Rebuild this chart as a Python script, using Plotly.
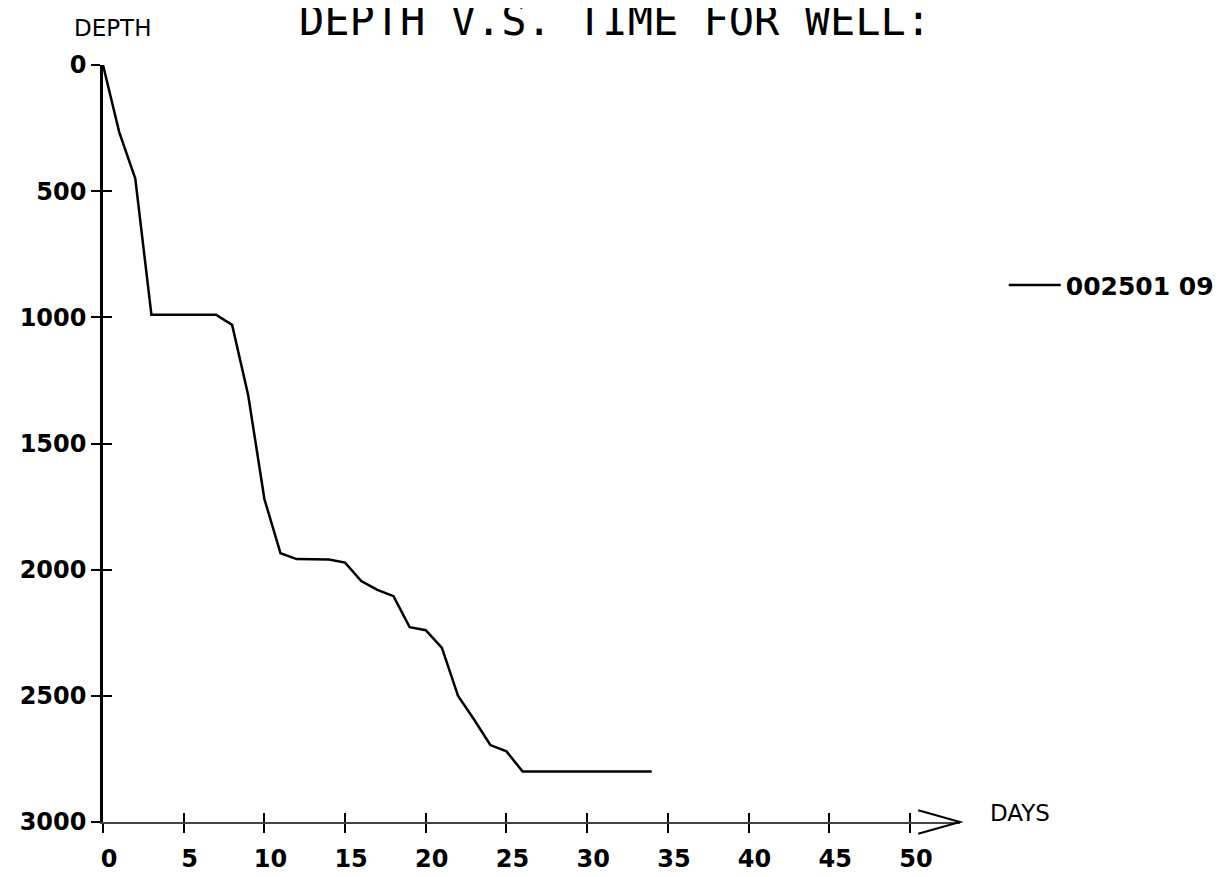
import plotly.graph_objects as go

# Data
days = [0, 1, 2, 3, 4, 5, 6, 7, 8, 9, 10, 11, 12, 13, 14, 15, 16, 17, 18,
        19, 20, 21, 22, 23, 24, 25, 26, 27, 28, 29, 30, 31, 32, 33, 34]
depth = [0, 265, 450, 990, 990, 990, 990, 990, 1030, 1310, 1720, 1935, 1958,
         1960, 1960, 1972, 2045, 2080, 2105, 2228, 2240, 2310, 2500, 2595,
         2695, 2720, 2800, 2800, 2800, 2800, 2800, 2800, 2800, 2800, 2800]
series_name = "002501 09"
x_ticks = [0, 5, 10, 15, 20, 25, 30, 35, 40, 45, 50]
y_ticks = [0, 500, 1000, 1500, 2000, 2500, 3000]

W, H = 1223, 877
L, R, T, B = 90, 271, 57, 43
PW, PH = W - L - R, H - T - B
XMAX = 53.1

tick_font = dict(family="DejaVu Sans", size=24, color="black", weight="bold")

fig = go.Figure()
fig.add_trace(go.Scatter(
    x=days, y=depth, mode="lines", name=series_name,
    line=dict(color="black", width=2.5),
))
# invisible companion trace on overlay axes (for crossing tick marks)
fig.add_trace(go.Scatter(
    x=days, y=depth, mode="lines", xaxis="x2", yaxis="y2",
    line=dict(color="rgba(0,0,0,0)", width=0), showlegend=False,
    hoverinfo="skip",
))

axis_common = dict(showgrid=False, zeroline=False)
fig.update_layout(
    width=W, height=H,
    margin=dict(l=L, r=R, t=T, b=B, pad=0),
    paper_bgcolor="white", plot_bgcolor="white",
    showlegend=True,
    xaxis=dict(range=[0, XMAX], tickvals=x_ticks, ticktext=[str(v) for v in x_ticks],
               ticks="outside", ticklen=9, tickwidth=2, tickcolor="black",
               showline=True, linecolor="#444", linewidth=2,
               ticklabelstandoff=5, ticklabelshift=6,
               tickfont=tick_font, anchor="y", **axis_common),
    yaxis=dict(range=[3000, 0], tickvals=y_ticks, ticktext=[str(v) for v in y_ticks],
               ticks="outside", ticklen=9, tickwidth=2, tickcolor="black",
               showline=True, linecolor="black", linewidth=2.5,
               tickfont=tick_font, anchor="x", **axis_common),
    xaxis2=dict(range=[0, XMAX], tickvals=x_ticks, overlaying="x", side="bottom",
                anchor="y2", ticks="inside", ticklen=9, tickwidth=2, tickcolor="black",
                showticklabels=False, showline=False, **axis_common),
    yaxis2=dict(range=[3000, 0], tickvals=y_ticks, overlaying="y", side="left",
                anchor="x2", ticks="inside", ticklen=9, tickwidth=2, tickcolor="black",
                showticklabels=False, showline=False, **axis_common),
    legend=dict(x=(996 - L) / PW, y=(H - B - 283) / PH,
                xanchor="left", yanchor="middle", itemwidth=52,
                font=dict(family="DejaVu Sans", size=25, color="black", weight="bold"),
                bgcolor="rgba(0,0,0,0)", borderwidth=0),
    title=dict(text="DEPTH V.S. TIME FOR WELL:", x=607 / W, xref="container",
               y=1 - 12 / H, yref="container", xanchor="center", yanchor="middle",
               font=dict(family="DejaVu Sans Mono", size=42, color="black")),
)

# arrow head at the end of the DAYS axis
ah = 12 / PH
ax0 = (910 - L) / PW
fig.add_shape(type="path", xref="paper", yref="paper",
              path=f"M {ax0},{ah} L 1,0 L {ax0},{-ah}",
              line=dict(color="black", width=2))

fig.add_annotation(text="DAYS", xref="paper", yref="paper",
                   x=(980 - L) / PW, y=(H - B - 825) / PH,
                   xanchor="left", yanchor="middle", showarrow=False,
                   font=dict(family="DejaVu Sans", size=23, color="black"))
fig.add_annotation(text="DEPTH", xref="paper", yref="paper",
                   x=(100 - L) / PW, y=(H - B - 19) / PH,
                   xanchor="center", yanchor="middle", showarrow=False,
                   font=dict(family="DejaVu Sans", size=23, color="black"))

fig.write_html("out.html")
